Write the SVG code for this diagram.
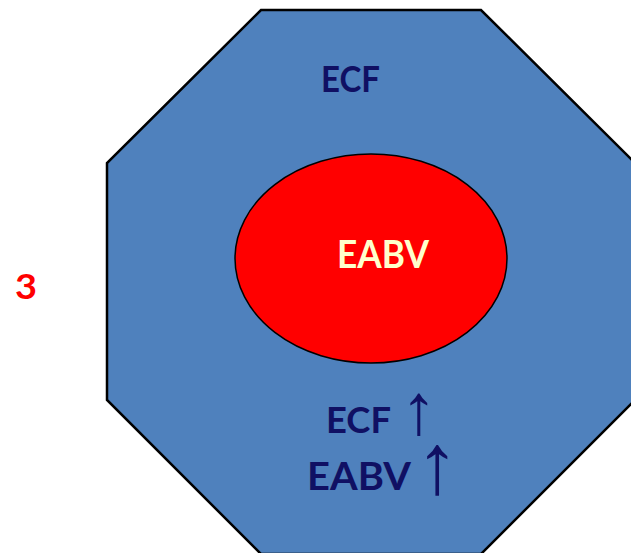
<svg xmlns="http://www.w3.org/2000/svg" width="631" height="553" viewBox="0 0 631 553">
  <style>
    .lbl { font-family: Lato, "Open Sans", "Liberation Sans", sans-serif; font-weight: bold; }
    .navy { fill: #101063; }
    .arrow { font-family: "Liberation Sans", "DejaVu Sans", sans-serif; font-weight: normal; fill: #101063; }
  </style>
  <rect width="631" height="553" fill="#ffffff"/>

  <!-- outer compartment: extracellular fluid -->
  <g id="ecf">
    <polygon points="261,10 481,10 635,163 635,400 481,554 261,554 107,400 107,163"
             fill="#4f81bd" stroke="#000000" stroke-width="2.5"/>
    <text class="lbl navy" x="321" y="92" font-size="36" textLength="59" lengthAdjust="spacingAndGlyphs">ECF</text>
  </g>

  <!-- inner compartment: effective arterial blood volume -->
  <g id="eabv">
    <ellipse cx="371" cy="258.5" rx="136" ry="104.5" fill="#ff0000" stroke="#000000" stroke-width="1.5"/>
    <text class="lbl" x="337" y="268" font-size="37.5" fill="#ffffcc" textLength="92" lengthAdjust="spacingAndGlyphs">EABV</text>
  </g>

  <!-- change summary -->
  <g id="summary">
    <text class="lbl navy" x="326" y="433" font-size="37" textLength="65" lengthAdjust="spacingAndGlyphs">ECF</text>
    <text class="arrow" x="419" y="434" font-size="72" text-anchor="middle">↑</text>
    <text class="lbl navy" x="307" y="490" font-size="39" textLength="104" lengthAdjust="spacingAndGlyphs">EABV</text>
    <text class="arrow" x="437" y="493" font-size="86" text-anchor="middle">↑</text>
  </g>

  <!-- panel number -->
  <g id="panel-number">
    <text class="lbl" x="15" y="299" font-size="35" fill="#ff0000" textLength="22" lengthAdjust="spacingAndGlyphs">3</text>
  </g>
</svg>
